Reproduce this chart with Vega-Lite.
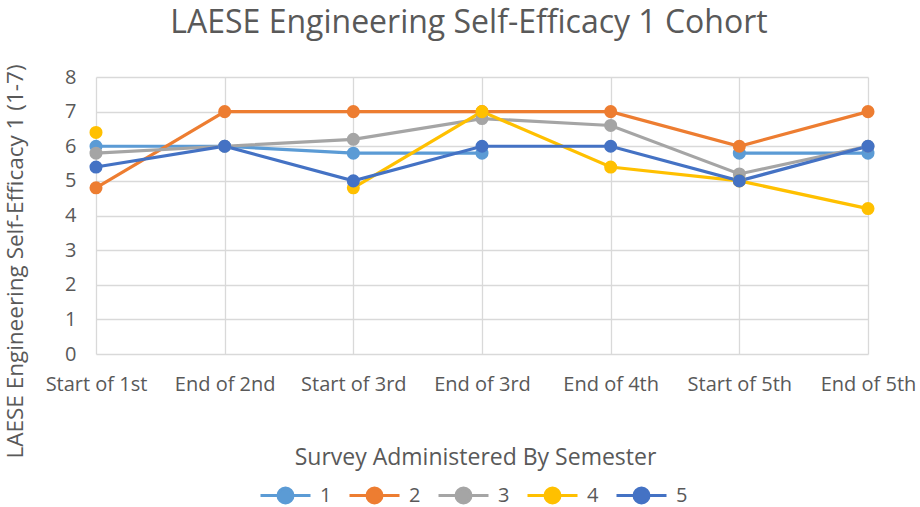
{
  "$schema": "https://vega.github.io/schema/vega-lite/v6.json",
  "width": 772,
  "height": 277,
  "autosize": "none",
  "padding": {"left": 96, "top": 77, "right": 52, "bottom": 153},
  "background": "white",
  "title": {
    "text": "LAESE Engineering Self-Efficacy 1 Cohort",
    "fontSize": 32,
    "font": "Open Sans",
    "fontWeight": "normal",
    "color": "#595959",
    "anchor": "middle",
    "frame": "group",
    "offset": 24,
    "dx": -13
  },
  "config": {
    "view": {"stroke": null},
    "font": "Open Sans",
    "axis": {
      "labelColor": "#595959",
      "titleColor": "#595959",
      "labelFont": "Open Sans",
      "titleFont": "Open Sans",
      "titleFontWeight": "normal",
      "gridColor": "#d9d9d9",
      "gridWidth": 1.3,
      "domain": false,
      "ticks": false
    }
  },
  "data": {
    "values": [
      {"sem": "Start of 1st", "series": "1", "v": 6},
      {"sem": "End of 2nd", "series": "1", "v": 6},
      {"sem": "Start of 3rd", "series": "1", "v": 5.8},
      {"sem": "End of 3rd", "series": "1", "v": 5.8},
      {"sem": "End of 4th", "series": "1", "v": null},
      {"sem": "Start of 5th", "series": "1", "v": 5.8},
      {"sem": "End of 5th", "series": "1", "v": 5.8},
      {"sem": "Start of 1st", "series": "2", "v": 4.8},
      {"sem": "End of 2nd", "series": "2", "v": 7},
      {"sem": "Start of 3rd", "series": "2", "v": 7},
      {"sem": "End of 3rd", "series": "2", "v": 7},
      {"sem": "End of 4th", "series": "2", "v": 7},
      {"sem": "Start of 5th", "series": "2", "v": 6},
      {"sem": "End of 5th", "series": "2", "v": 7},
      {"sem": "Start of 1st", "series": "3", "v": 5.8},
      {"sem": "End of 2nd", "series": "3", "v": 6},
      {"sem": "Start of 3rd", "series": "3", "v": 6.2},
      {"sem": "End of 3rd", "series": "3", "v": 6.8},
      {"sem": "End of 4th", "series": "3", "v": 6.6},
      {"sem": "Start of 5th", "series": "3", "v": 5.2},
      {"sem": "End of 5th", "series": "3", "v": 6},
      {"sem": "Start of 1st", "series": "4", "v": 6.4},
      {"sem": "End of 2nd", "series": "4", "v": null},
      {"sem": "Start of 3rd", "series": "4", "v": 4.8},
      {"sem": "End of 3rd", "series": "4", "v": 7},
      {"sem": "End of 4th", "series": "4", "v": 5.4},
      {"sem": "Start of 5th", "series": "4", "v": 5},
      {"sem": "End of 5th", "series": "4", "v": 4.2},
      {"sem": "Start of 1st", "series": "5", "v": 5.4},
      {"sem": "End of 2nd", "series": "5", "v": 6},
      {"sem": "Start of 3rd", "series": "5", "v": 5},
      {"sem": "End of 3rd", "series": "5", "v": 6},
      {"sem": "End of 4th", "series": "5", "v": 6},
      {"sem": "Start of 5th", "series": "5", "v": 5},
      {"sem": "End of 5th", "series": "5", "v": 6}
    ]
  },
  "encoding": {
    "x": {
      "field": "sem",
      "type": "ordinal",
      "sort": ["Start of 1st", "End of 2nd", "Start of 3rd", "End of 3rd", "End of 4th", "Start of 5th", "End of 5th"],
      "scale": {"type": "point", "padding": 0},
      "axis": {
        "title": "Survey Administered By Semester",
        "titleFontSize": 23,
        "titleX": 379,
        "titleY": 103,
        "titleBaseline": "middle",
        "labelFontSize": 20,
        "labelAngle": 0,
        "labelPadding": 20,
        "labelOverlap": false,
        "grid": true
      }
    },
    "y": {
      "field": "v",
      "type": "quantitative",
      "scale": {"domain": [0, 8]},
      "axis": {
        "title": "LAESE Engineering Self-Efficacy 1 (1-7)",
        "titleFontSize": 22.5,
        "titleX": -81,
        "titleY": 184,
        "titleAngle": -90,
        "titleAlign": "center",
        "titleBaseline": "middle",
        "labelFontSize": 20,
        "labelPadding": 20,
        "labelOverlap": false,
        "values": [0, 1, 2, 3, 4, 5, 6, 7, 8]
      }
    },
    "color": {
      "field": "series",
      "type": "nominal",
      "scale": {"domain": ["1", "2", "3", "4", "5"], "range": ["#5B9BD5", "#ED7D31", "#A5A5A5", "#FFC000", "#4472C4"]},
      "legend": {
        "title": null,
        "orient": "none",
        "direction": "horizontal",
        "legendX": 163,
        "legendY": 392,
        "labelFontSize": 20,
        "labelColor": "#595959",
        "symbolType": "M-1,0L1,0M-0.3,0A0.3,0.3 0 1,0 0.3,0A0.3,0.3 0 1,0 -0.3,0",
        "symbolSize": 2500,
        "symbolStrokeWidth": 3,
        "columnPadding": 11,
        "labelOffset": 8,
        "encode": {
          "symbols": {"update": {"fill": {"scale": "color", "field": "value"}, "fillOpacity": {"value": 1}}}
        }
      }
    }
  },
  "layer": [
    {"mark": {"type": "line", "strokeWidth": 3.2}, "encoding": {}},
    {"mark": {"type": "point", "filled": true, "size": 170, "opacity": 1}, "encoding": {}}
  ]
}
